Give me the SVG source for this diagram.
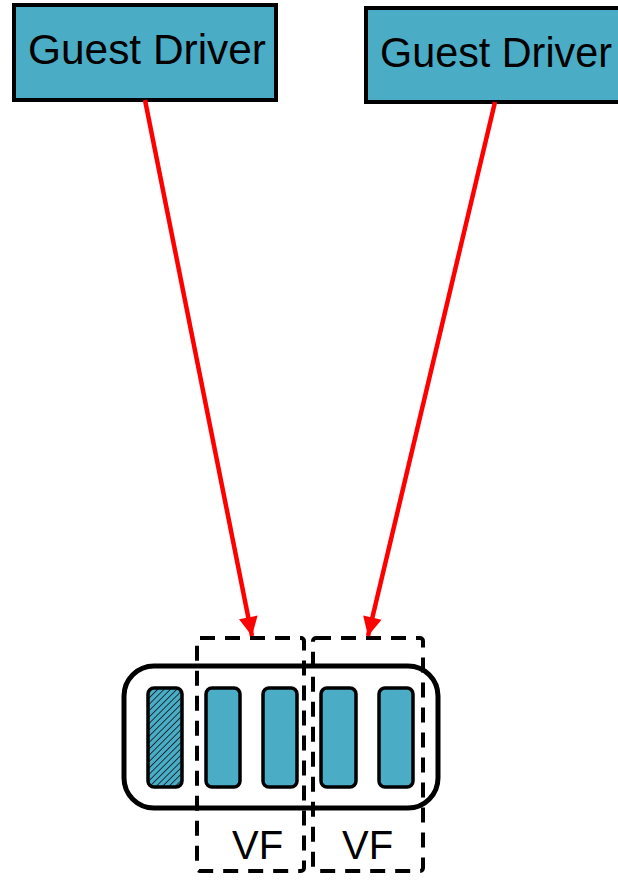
<svg xmlns="http://www.w3.org/2000/svg" width="618" height="881" viewBox="0 0 618 881">
<style>
.box{fill:#4BACC6;stroke:#000;stroke-width:4}
.lbl{font-family:"Liberation Sans",Arial,sans-serif;fill:#000}
.bar{fill:#4BACC6;stroke:#000;stroke-width:3.5}
.dash{fill:none;stroke:#000;stroke-width:4;stroke-dasharray:15 10}
.conn{stroke:#FF0000;stroke-width:4.5;fill:none}
</style>
<defs>
<marker id="ah" viewBox="0 0 10 10" refX="10" refY="5" markerWidth="5" markerHeight="4.2" orient="auto" markerUnits="strokeWidth">
<path d="M0,0 L10,5 L0,10 z" fill="#FF0000"/>
</marker>
<pattern id="hatch" width="4.5" height="4.5" patternUnits="userSpaceOnUse" patternTransform="rotate(45)">
<rect width="4.5" height="4.5" fill="#4BACC6"/>
<line x1="0" y1="0" x2="0" y2="4.5" stroke="#000" stroke-width="1.4"/>
</pattern>
</defs>
<g id="guest1">
<rect class="box" x="14" y="5" width="262" height="95"/>
<text class="lbl" x="28" y="64" font-size="43" textLength="238" lengthAdjust="spacingAndGlyphs">Guest Driver</text>
</g>
<g id="guest2">
<rect class="box" x="366" y="8" width="256" height="94"/>
<text class="lbl" x="380" y="67" font-size="43" textLength="232" lengthAdjust="spacingAndGlyphs">Guest Driver</text>
</g>
<g id="device">
<rect x="124" y="666" width="314" height="142" rx="30" fill="none" stroke="#000" stroke-width="5"/>
<rect class="bar" x="148" y="688" width="34" height="99" rx="6" style="fill:url(#hatch)"/>
<rect class="bar" x="206" y="688" width="34" height="99" rx="6"/>
<rect class="bar" x="263" y="688" width="34" height="99" rx="6"/>
<rect class="bar" x="321" y="688" width="35" height="99" rx="6"/>
<rect class="bar" x="379" y="688" width="34" height="99" rx="6"/>
</g>
<g id="vf1">
<rect class="dash" x="197" y="638" width="107" height="233" rx="3"/>
<text class="lbl" x="232" y="859" font-size="40">VF</text>
</g>
<g id="vf2">
<rect class="dash" x="313" y="638" width="110" height="233" rx="3"/>
<text class="lbl" x="342" y="859" font-size="40">VF</text>
</g>
<g id="connectors">
<line class="conn" x1="145" y1="100" x2="252" y2="636" marker-end="url(#ah)"/>
<line class="conn" x1="495" y1="102" x2="368" y2="636" marker-end="url(#ah)"/>
</g>
</svg>
